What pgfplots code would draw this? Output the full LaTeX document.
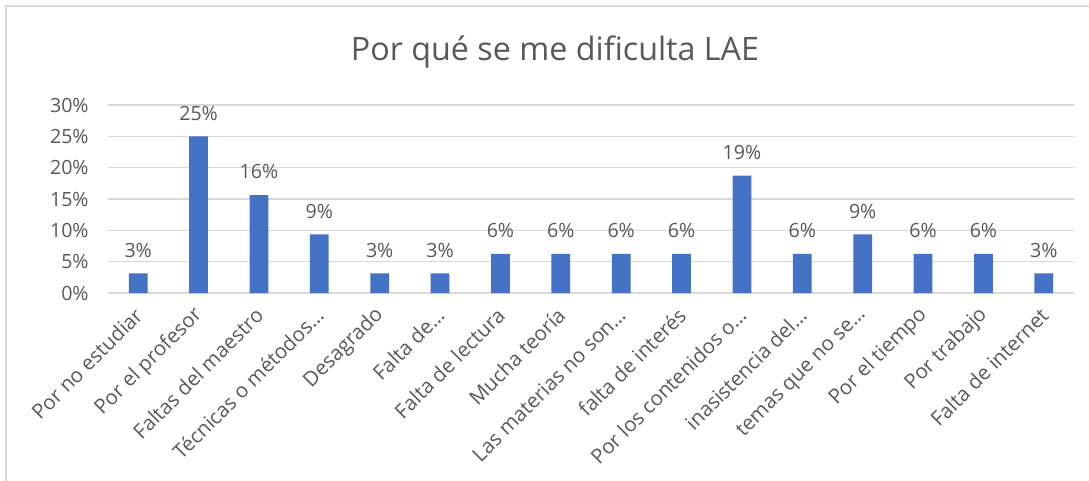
\documentclass[border=0pt]{standalone}
\usepackage{fontspec}
\setmainfont{Open Sans}
\usepackage{pgfplots}
\usepackage{pgfplotstable}
\pgfplotsset{compat=1.18}
\definecolor{barblue}{HTML}{4472C4}
\definecolor{txtgray}{HTML}{595959}
\definecolor{gridgray}{HTML}{D9D9D9}
\pgfplotstableread{
x y lab
0 3.125 3
1 25 25
2 15.625 16
3 9.375 9
4 3.125 3
5 3.125 3
6 6.25 6
7 6.25 6
8 6.25 6
9 6.25 6
10 18.75 19
11 6.25 6
12 9.375 9
13 6.25 6
14 6.25 6
15 3.125 3
}\datatable
\begin{document}
\begin{tikzpicture}[x=0.75pt,y=0.75pt]
\useasboundingbox (0,0) rectangle (1089,480);
\fill[white] (0,0) rectangle (1089,480);
\draw[gridgray, line width=1pt] (6,-5) -- (6,474) -- (1095,474);
\node[txtgray, font=\fontsize{24.2}{29}\selectfont, anchor=base, inner sep=0pt] at (555,420) {Por qué se me dificulta LAE};
\begin{axis}[
  at={(81pt,140.25pt)}, anchor=south west,
  scale only axis, width=724.5pt, height=141pt,
  xmin=-0.5, xmax=15.5, ymin=0, ymax=30,
  ytick={0,5,...,30},
  yticklabel={\pgfmathprintnumber{\tick}\%},
  xtick=data,
  xticklabels={Por no estudiar,Por el profesor,Faltas del maestro,Técnicas o métodos…,Desagrado,Falta de…,Falta de lectura,Mucha teoría,Las materias no son…,falta de interés,Por los contenidos o…,inasistencia del…,temas que no se…,Por el tiempo,Por trabajo,Falta de internet},
  xticklabel style={font=\fontsize{15.3}{17}\selectfont, text=txtgray, inner sep=0pt, xshift=0.5pt, yshift=-14pt, anchor=east, rotate=45},
  yticklabel style={font=\fontsize{14.7}{17}\selectfont, text=txtgray, xshift=-11pt},
  /pgf/number format/assume math mode=true,
  major tick length=0pt,
  axis x line*=bottom, axis y line*=left,
  y axis line style={draw=none},
  x axis line style={gridgray, line width=1pt},
  ymajorgrids, grid style={gridgray, line width=1pt},
  clip=false,
  point meta=explicit symbolic,
  nodes near coords={\pgfplotspointmeta\%},
  nodes near coords style={font=\fontsize{14.7}{17}\selectfont, text=txtgray, anchor=south, yshift=8.5pt},
]
\addplot[ybar, bar width=14pt, fill=barblue, draw=none] table[x=x, y=y, meta=lab] {\datatable};
\end{axis}
\end{tikzpicture}
\end{document}
